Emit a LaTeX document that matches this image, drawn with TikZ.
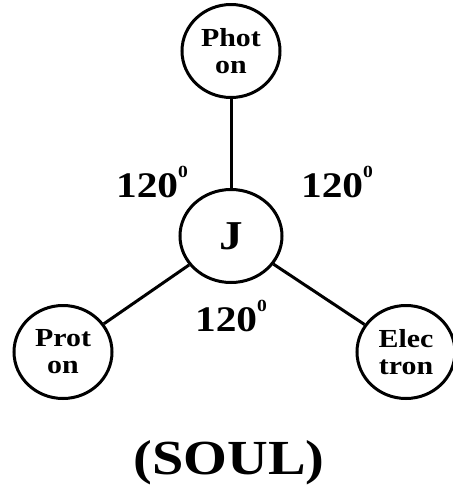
\documentclass[tikz,border=0pt]{standalone}
\usepackage{fontspec}
\setmainfont{Liberation Serif}[FakeStretch=1.15]
\usetikzlibrary{shapes.geometric}
\def\deg{\raisebox{0.55em}{\fontsize{17}{17}\selectfont 0}}

\begin{document}
\begin{tikzpicture}[x=1pt,y=1pt,
   particle/.style={ellipse,draw,line width=3pt,minimum width=98pt,minimum height=93pt,
                    inner sep=0pt,align=center,font=\fontsize{26}{27}\selectfont\bfseries},
   angle/.style={font=\fontsize{36}{36}\selectfont\bfseries}]
\useasboundingbox (0,0) rectangle (453,-491);
       \node [particle] at (231,-51) (photon) {Phot\\on};
          \node [particle,minimum width=102pt] at (231,-236) (J) {\fontsize{41}{41}\selectfont J};
             \node [particle] at (63,-352) (proton) {Prot\\on};
                \node [particle] at (406,-352) (electron) {Elec\\tron};
%
             \node [angle] at (152,-182) (left angle) {120\deg};
             \node [angle] at (337,-182) (right angle) {120\deg};
             \node [angle] at (231,-316) (bottom angle) {120\deg};
%
             \node [font=\fontsize{49}{49}\selectfont\bfseries] at (229,-463) (soul) {(SOUL)};
%
\path[-,line width=3pt] (J) edge (photon);
\path[-,line width=3pt] (J) edge (proton);
\path[-,line width=3pt] (J) edge (electron);

\end{tikzpicture}
\end{document}
